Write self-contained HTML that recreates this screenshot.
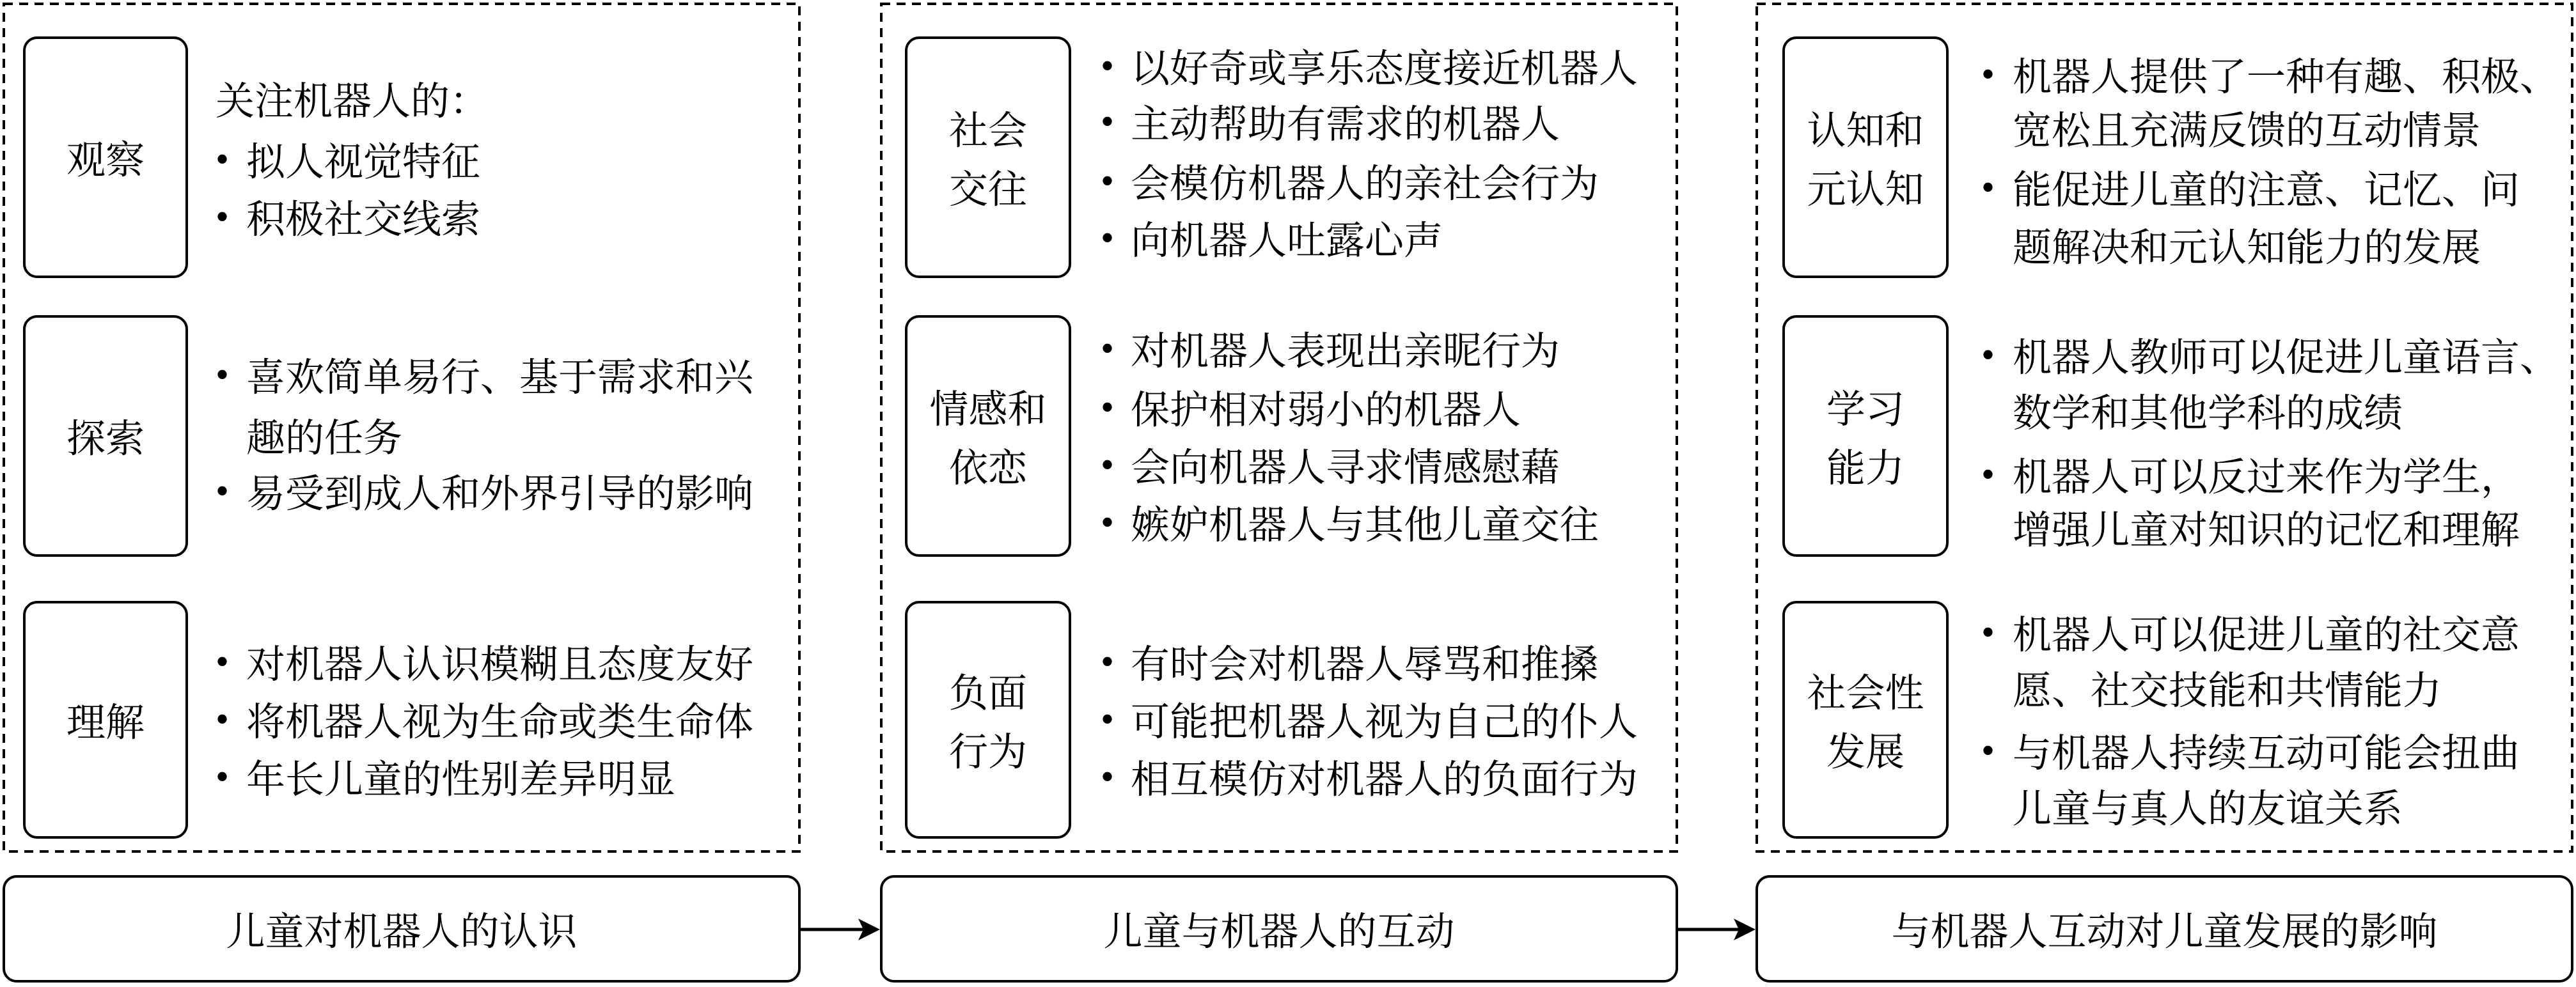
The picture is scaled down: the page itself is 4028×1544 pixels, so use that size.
<!DOCTYPE html>
<html><head><meta charset="utf-8"><style>
body{margin:0;width:4028px;height:1544px;background:#fff;position:relative;overflow:hidden;font-family:"Noto Serif CJK SC","Liberation Serif",serif;color:#000}
.b{position:absolute;border:4px solid #000;border-radius:22px;box-sizing:border-box;display:flex;align-items:center;justify-content:center;text-align:center;font-size:61px;line-height:92px}
.t{position:absolute;font-size:61px;line-height:92px;height:92px;white-space:nowrap}
.u{position:absolute;font-family:"Liberation Serif",serif;font-size:60px;line-height:92px;height:92px}
</style></head><body>
<svg style="position:absolute;left:0;top:0" width="4028" height="1544">
<g fill="none" stroke="#000" stroke-width="4" stroke-dasharray="14 10">
<rect x="6" y="6" width="1244" height="1326"/>
<rect x="1378" y="6" width="1244" height="1326"/>
<rect x="2747" y="6" width="1275" height="1326"/>
</g>
<line x1="1252" y1="1454" x2="1350" y2="1454" stroke="#000" stroke-width="5"/>
<polygon points="1376,1454 1342,1437 1350,1454 1342,1471" fill="#000"/>
<line x1="2624" y1="1454" x2="2720" y2="1454" stroke="#000" stroke-width="5"/>
<polygon points="2745,1454 2711,1437 2719,1454 2711,1471" fill="#000"/>
</svg>

<div class="b" style="left:36px;top:57px;width:258px;height:378px">观察</div>
<div class="b" style="left:36px;top:493px;width:258px;height:378px">探索</div>
<div class="b" style="left:36px;top:940px;width:258px;height:372px">理解</div>
<div class="b" style="left:1415px;top:57px;width:260px;height:378px">社会<br>交往</div>
<div class="b" style="left:1415px;top:493px;width:260px;height:378px">情感和<br>依恋</div>
<div class="b" style="left:1415px;top:940px;width:260px;height:372px">负面<br>行为</div>
<div class="b" style="left:2787px;top:57px;width:260px;height:378px">认知和<br>元认知</div>
<div class="b" style="left:2787px;top:493px;width:260px;height:378px">学习<br>能力</div>
<div class="b" style="left:2787px;top:940px;width:260px;height:372px">社会性<br>发展</div>

<div class="b" style="left:4px;top:1369px;width:1248px;height:168px">儿童对机器人的认识</div>
<div class="b" style="left:1376px;top:1369px;width:1248px;height:168px">儿童与机器人的互动</div>
<div class="b" style="left:2745px;top:1369px;width:1279px;height:168px">与机器人互动对儿童发展的影响</div>

<div class="t" style="left:337px;top:108px">关注机器人的：</div>
<div class="u" style="left:337px;top:203px">•</div><div class="t" style="left:385px;top:203px">拟人视觉特征</div>
<div class="u" style="left:337px;top:293px">•</div><div class="t" style="left:385px;top:293px">积极社交线索</div>
<div class="u" style="left:337px;top:540px">•</div><div class="t" style="left:385px;top:540px">喜欢简单易行、基于需求和兴</div>
<div class="t" style="left:385px;top:635px">趣的任务</div>
<div class="u" style="left:337px;top:722px">•</div><div class="t" style="left:385px;top:722px">易受到成人和外界引导的影响</div>
<div class="u" style="left:337px;top:989px">•</div><div class="t" style="left:385px;top:989px">对机器人认识模糊且态度友好</div>
<div class="u" style="left:337px;top:1079px">•</div><div class="t" style="left:385px;top:1079px">将机器人视为生命或类生命体</div>
<div class="u" style="left:337px;top:1169px">•</div><div class="t" style="left:385px;top:1169px">年长儿童的性别差异明显</div>

<div class="u" style="left:1721px;top:57px">•</div><div class="t" style="left:1768px;top:57px">以好奇或享乐态度接近机器人</div>
<div class="u" style="left:1721px;top:144px">•</div><div class="t" style="left:1768px;top:144px">主动帮助有需求的机器人</div>
<div class="u" style="left:1721px;top:237px">•</div><div class="t" style="left:1768px;top:237px">会模仿机器人的亲社会行为</div>
<div class="u" style="left:1721px;top:326px">•</div><div class="t" style="left:1768px;top:326px">向机器人吐露心声</div>
<div class="u" style="left:1721px;top:499px">•</div><div class="t" style="left:1768px;top:499px">对机器人表现出亲昵行为</div>
<div class="u" style="left:1721px;top:591px">•</div><div class="t" style="left:1768px;top:591px">保护相对弱小的机器人</div>
<div class="u" style="left:1721px;top:681px">•</div><div class="t" style="left:1768px;top:681px">会向机器人寻求情感慰藉</div>
<div class="u" style="left:1721px;top:771px">•</div><div class="t" style="left:1768px;top:771px">嫉妒机器人与其他儿童交往</div>
<div class="u" style="left:1721px;top:989px">•</div><div class="t" style="left:1768px;top:989px">有时会对机器人辱骂和推搡</div>
<div class="u" style="left:1721px;top:1079px">•</div><div class="t" style="left:1768px;top:1079px">可能把机器人视为自己的仆人</div>
<div class="u" style="left:1721px;top:1169px">•</div><div class="t" style="left:1768px;top:1169px">相互模仿对机器人的负面行为</div>

<div class="u" style="left:3098px;top:70px">•</div><div class="t" style="left:3147px;top:70px">机器人提供了一种有趣、积极、</div>
<div class="t" style="left:3147px;top:154px">宽松且充满反馈的互动情景</div>
<div class="u" style="left:3098px;top:247px">•</div><div class="t" style="left:3147px;top:247px">能促进儿童的注意、记忆、问</div>
<div class="t" style="left:3147px;top:337px">题解决和元认知能力的发展</div>
<div class="u" style="left:3098px;top:509px">•</div><div class="t" style="left:3147px;top:509px">机器人教师可以促进儿童语言、</div>
<div class="t" style="left:3147px;top:596px">数学和其他学科的成绩</div>
<div class="u" style="left:3098px;top:696px">•</div><div class="t" style="left:3147px;top:696px">机器人可以反过来作为学生，</div>
<div class="t" style="left:3147px;top:779px">增强儿童对知识的记忆和理解</div>
<div class="u" style="left:3098px;top:943px">•</div><div class="t" style="left:3147px;top:943px">机器人可以促进儿童的社交意</div>
<div class="t" style="left:3147px;top:1030px">愿、社交技能和共情能力</div>
<div class="u" style="left:3098px;top:1128px">•</div><div class="t" style="left:3147px;top:1128px">与机器人持续互动可能会扭曲</div>
<div class="t" style="left:3147px;top:1215px">儿童与真人的友谊关系</div>
</body></html>
